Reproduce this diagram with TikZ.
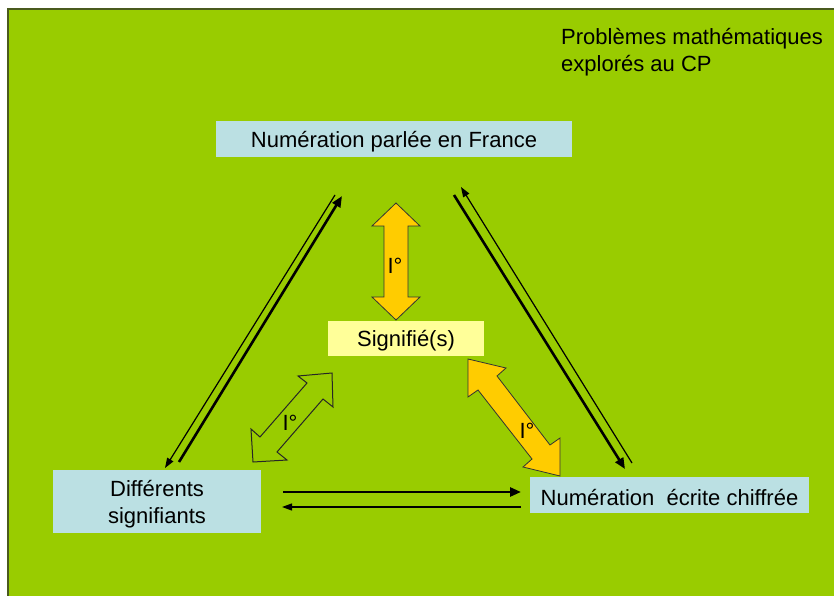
\documentclass[tikz,border=0pt]{standalone}
\usepackage{fontspec}
\setmainfont{Liberation Sans}
\usetikzlibrary{arrows.meta}
\definecolor{bggreen}{HTML}{99CC00}
\definecolor{bgedge}{HTML}{4A5A1E}
\definecolor{boxblue}{HTML}{BBE0E3}
\definecolor{boxyellow}{HTML}{FFFF99}
\definecolor{arrorange}{HTML}{FFCC00}
\newcommand\lowertxt[1]{\raisebox{-2.5bp}[\height][\depth]{#1}}
\tikzset{
  txt/.style={font=\fontsize{22bp}{27bp}\selectfont, text=black},
  bluebox/.style={txt, fill=boxblue, draw=none, inner sep=0pt, align=center},
  yellowbox/.style={txt, fill=boxyellow, draw=none, inner sep=0pt, align=center},
  thickarrow/.style={line width=2.6bp, -{Triangle[length=11bp,width=9bp]}},
  thinarrow/.style={line width=1.2bp, -{Triangle[length=10bp,width=7bp]}},
  fatarrow/.style={fill=arrorange, draw=black!80, line width=0.8bp, line join=miter},
  hollowarrow/.style={draw=black!85, line width=1bp, line join=miter},
  arrlabel/.style={txt, inner sep=0pt}
}
\begin{document}
\begin{tikzpicture}[x=1bp, y=-1bp]
\useasboundingbox (0,0) rectangle (834,596);
% background
\fill[bggreen] (8,9) rectangle (834,596);
\draw[bgedge, line width=2bp] (8,596) -- (8,9) -- (834,9);

% title
\node[txt, anchor=north west, inner sep=0pt, align=left] (title) at (561,28)
  {Problèmes mathématiques\\explorés au CP};

% boxes
\node[bluebox, minimum width=356bp, minimum height=36bp] (parlee) at (394,139)
  {\lowertxt{Numération parlée en France}};
\node[yellowbox, minimum width=156bp, minimum height=35bp] (signifie) at (406,338.5)
  {\lowertxt{Signifié(s)}};
\node[bluebox, minimum width=208bp, minimum height=63bp] (signifiants) at (157,501.5)
  {\raisebox{-3bp}[\height][\depth]{\begin{tabular}{@{}c@{}}Différents\\signifiants\end{tabular}}};
\node[bluebox, minimum width=279bp, minimum height=36bp] (ecrite) at (669.5,495)
  {\lowertxt{Numération\ \ écrite chiffrée}};

% connector end points
\coordinate (L1a) at (179,462); \coordinate (L1b) at (342,196);
\coordinate (L2a) at (335,195); \coordinate (L2b) at (165,468);
\coordinate (R1a) at (454,195); \coordinate (R1b) at (625,469);
\coordinate (R2a) at (632,463); \coordinate (R2b) at (461,187);
\coordinate (B1a) at (283,492); \coordinate (B1b) at (521,492);
\coordinate (B2a) at (521,507); \coordinate (B2b) at (282,507);

\draw[thickarrow] (L1a) -- (L1b);
\draw[thinarrow] (L2a) -- (L2b);
\draw[thickarrow] (R1a) -- (R1b);
\draw[thinarrow] (R2a) -- (R2b);
\draw[thickarrow] (B1a) -- (B1b);
\draw[thinarrow] (B2a) -- (B2b);

% vertical orange double arrow
\draw[fatarrow] (396,203) -- (420,226) -- (408,226) -- (408,297) -- (420,297) -- (396,320)
  -- (372,297) -- (384,297) -- (384,226) -- (372,226) -- cycle;
\node[arrlabel] (lab1) at (395,266) {I°};

% diagonal orange double arrow
\draw[fatarrow] (468,359) -- (506,368) -- (497,376) -- (550,445) -- (560,438) -- (560,476)
  -- (523,467) -- (532,459) -- (478,390) -- (468,397) -- cycle;
\node[arrlabel] (lab2) at (527,431) {I°};

% hollow double arrow
\draw[hollowarrow] (332,373) -- (333,407) -- (323,399) -- (277,452) -- (287,460) -- (253,462)
  -- (251,429) -- (260,437) -- (307,383) -- (298,376) -- cycle;
\node[arrlabel] (lab3) at (290,423) {I°};
\end{tikzpicture}
\end{document}
